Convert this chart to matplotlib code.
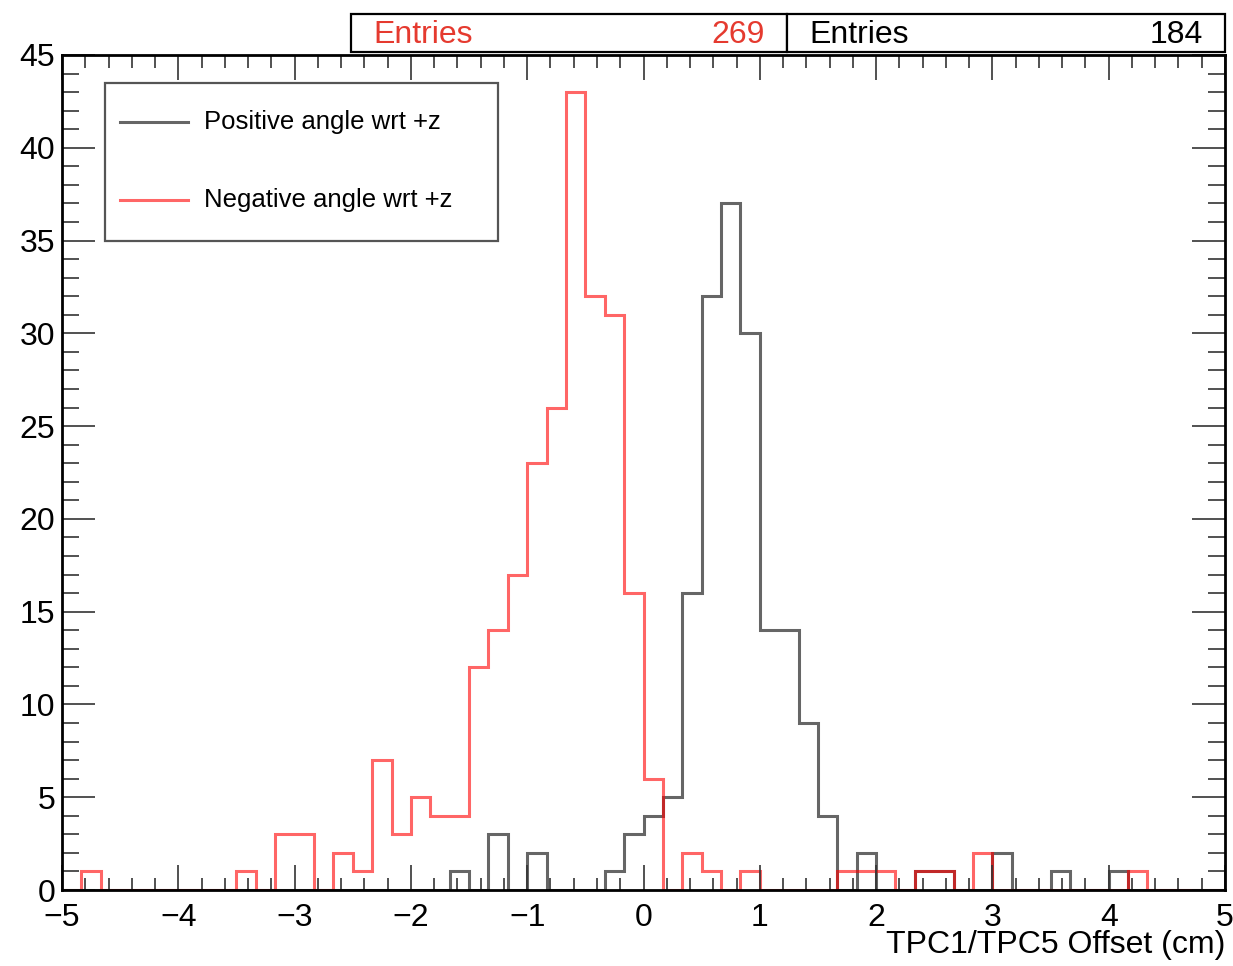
import matplotlib.pyplot as plt
from matplotlib.patches import Rectangle
from matplotlib.lines import Line2D
from matplotlib.ticker import MultipleLocator
import numpy as np

plt.rcParams['font.family'] = ['Liberation Sans', 'DejaVu Sans']

# 60 bins from -5 to 5 cm
edges = np.linspace(-5, 5, 61)

# bin index -> counts, negative angle (red)
neg_bins = [1, 9, 11, 12, 14, 15, 16, 17, 18, 19, 20, 21, 22, 23, 24, 25, 26, 27,
            28, 29, 30, 32, 33, 35, 40, 41, 42, 44, 45, 47, 55]
neg_vals = [1, 1, 3, 3, 2, 1, 7, 3, 5, 4, 4, 12, 14, 17, 23, 26, 43, 32,
            31, 16, 6, 2, 1, 1, 1, 1, 1, 1, 1, 2, 1]

# bin index -> counts, positive angle (black)
pos_bins = [20, 22, 24, 28, 29, 30, 31, 32, 33, 34, 35, 36, 37, 38, 39, 41, 44, 45,
            48, 51, 54]
pos_vals = [1, 3, 2, 1, 3, 4, 5, 16, 32, 37, 30, 14, 14, 9, 4, 2, 1, 1,
            2, 1, 1]

# stats box entries (include under/overflow)
neg_entries = 269
pos_entries = 184

neg_counts = np.zeros(60)
neg_counts[neg_bins] = neg_vals
pos_counts = np.zeros(60)
pos_counts[pos_bins] = pos_vals

W, H = 1233, 966
fig = plt.figure(figsize=(W / 100, H / 100), dpi=100)


def fx(px):
    return px / W


def fy(py):
    return 1 - py / H


ax = fig.add_axes([fx(62), fy(890), fx(1225) - fx(62), fy(55) - fy(890)])

red = (1.0, 0.0, 0.0, 0.6)
grey = (0.0, 0.0, 0.0, 0.6)

ax.stairs(pos_counts, edges, color=grey, lw=2.2, baseline=0)
ax.stairs(neg_counts, edges, color=red, lw=2.2, baseline=0)

ax.set_xlim(-5, 5)
ax.set_ylim(0, 45)

ax.xaxis.set_major_locator(MultipleLocator(1))
ax.xaxis.set_minor_locator(MultipleLocator(0.2))
ax.yaxis.set_major_locator(MultipleLocator(5))
ax.yaxis.set_minor_locator(MultipleLocator(1))

ax.tick_params(which='both', direction='in', top=True, right=True,
               labelsize=23, width=1.2, color='#333333')
ax.tick_params(axis='x', which='major', length=18, pad=9)
ax.tick_params(axis='x', which='minor', length=9)
ax.tick_params(axis='y', which='major', length=24, pad=5)
ax.tick_params(axis='y', which='minor', length=12)
for s in ax.spines.values():
    s.set_linewidth(2)
    s.set_zorder(5)

fig.text(fx(1225), fy(945), 'TPC1/TPC5 Offset (cm)', ha='right', va='center',
         fontsize=23)

# legend box
fig.add_artist(Rectangle((fx(105), fy(241)), fx(498) - fx(105), fy(83) - fy(241),
                         transform=fig.transFigure, fill=False, lw=1.6,
                         edgecolor='#555555'))
for yy, col, lab in [(122, grey, 'Positive angle wrt +z'),
                     (200, red, 'Negative angle wrt +z')]:
    fig.add_artist(Line2D([fx(120), fx(188)], [fy(yy), fy(yy)],
                          transform=fig.transFigure, color=col, lw=2.2))
    fig.text(fx(204), fy(yy), lab, ha='left', va='center', fontsize=18.5)

# stats boxes
for x0, x1, col, n in [(351, 787, '#e53a2f', neg_entries),
                       (787, 1225, 'black', pos_entries)]:
    fig.add_artist(Rectangle((fx(x0), fy(52)), fx(x1) - fx(x0), fy(14) - fy(52),
                             transform=fig.transFigure, facecolor='white',
                             edgecolor='black', lw=1.6, zorder=10))
    fig.text(fx(x0 + 22), fy(35), 'Entries', ha='left', va='center',
             fontsize=23, color=col, zorder=11)
    fig.text(fx(x1 - 22), fy(35), str(n), ha='right', va='center',
             fontsize=23, color=col, zorder=11)

fig.savefig('out.png', dpi=100)
